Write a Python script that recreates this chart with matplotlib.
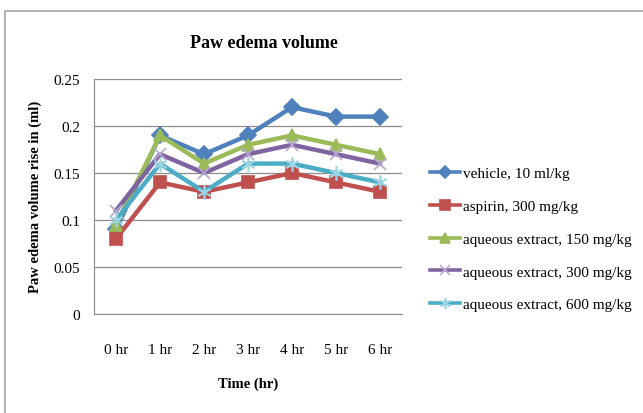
import matplotlib.pyplot as plt
from matplotlib.patches import Rectangle

# ---------------------------
# Data
# ---------------------------
time_labels = ["0 hr", "1 hr", "2 hr", "3 hr", "4 hr", "5 hr", "6 hr"]
vehicle = [0.09, 0.19, 0.17, 0.19, 0.22, 0.21, 0.21]
aspirin = [0.08, 0.14, 0.13, 0.14, 0.15, 0.14, 0.13]
extract_150 = [0.095, 0.19, 0.16, 0.18, 0.19, 0.18, 0.17]
extract_300 = [0.11, 0.17, 0.15, 0.17, 0.18, 0.17, 0.16]
extract_600 = [0.10, 0.16, 0.13, 0.16, 0.16, 0.15, 0.14]

series = [
    ("vehicle, 10 ml/kg", vehicle, "#4F81BD", "D", 8, "#4F81BD"),
    ("aspirin, 300 mg/kg", aspirin, "#C0504D", "s", 9, "#C0504D"),
    ("aqueous extract, 150 mg/kg", extract_150, "#9BBB59", "^", 9, "#9BBB59"),
    ("aqueous extract, 300 mg/kg", extract_300, "#8064A2", "x", 9, "#B9A9D0"),
    ("aqueous extract, 600 mg/kg", extract_600, "#4BACC6", (6, 2, 0), 10, "#9BD5E5"),
]

plt.rcParams['font.family'] = ['Liberation Serif', 'DejaVu Serif']

fig = plt.figure(figsize=(6.43, 4.14), dpi=100)
# outer chart border (left and top edges visible)
fig.patches.append(Rectangle((5 / 643, -0.1), 1.2, 1.1 - 12 / 414,
                             transform=fig.transFigure, fill=False,
                             edgecolor="#A6A6A6", linewidth=1.2))

ax = fig.add_axes([94 / 643, 1 - 315 / 414, 308 / 643, 235 / 414])

x = list(range(len(time_labels)))
for label, vals, color, marker, ms, edge in series:
    ax.plot(x, vals, color=color, linewidth=3.2, marker=marker, markersize=ms,
            markerfacecolor=color, markeredgecolor=edge,
            markeredgewidth=1.2, label=label)

ax.set_xlim(-0.5, 6.5)
ax.set_ylim(0, 0.25)
ax.set_yticks([0, 0.05, 0.1, 0.15, 0.2, 0.25])
ax.set_yticklabels(["0", "0.05", "0.1", "0.15", "0.2", "0.25"])
ax.set_xticks(x)
ax.set_xticklabels(time_labels)
ax.tick_params(axis="both", length=0, labelsize=11, pad=10)
ax.tick_params(axis="x", pad=21)
ax.grid(axis="y", color="#8C8C8C", linewidth=0.9)
ax.set_axisbelow(True)
for s in ["top", "right"]:
    ax.spines[s].set_visible(False)
ax.spines["left"].set_color("#8C8C8C")
ax.spines["bottom"].set_color("#8C8C8C")

fig.text(264 / 643, 1 - 43 / 414, "Paw edema volume", ha="center", va="center",
         fontsize=13, fontweight="bold")
fig.text(248 / 643, 1 - 384 / 414, "Time (hr)", ha="center", va="center",
         fontsize=10.5, fontweight="bold")
fig.text(35 / 643, 1 - 197 / 414, "Paw edema volume rise in (ml)", ha="center",
         va="center", rotation=90, fontsize=10.5, fontweight="bold")

leg = ax.legend(loc="center left", bbox_to_anchor=(422 / 643, 1 - 240 / 414),
                bbox_transform=fig.transFigure, frameon=False, fontsize=11,
                handlelength=2.0, handletextpad=0.2, labelspacing=1.25,
                borderpad=0, markerscale=0.8)
for line in leg.get_lines():
    line.set_linewidth(2.6)

fig.savefig("out.png", dpi=100)
